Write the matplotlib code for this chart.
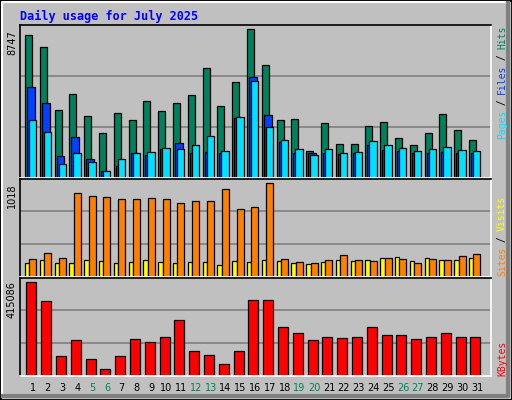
import matplotlib
matplotlib.use("Agg")
import matplotlib.pyplot as plt
from matplotlib.patches import Rectangle
from matplotlib.lines import Line2D

days = list(range(1, 32))
hits = [8391,7679,3938,4888,3641,2632,3819,3404,4473,3879,4354,4829,6432,4176,5601,8747,
        6610,3404,3463,1563,3226,1979,1979,3048,3285,2335,1920,2632,3760,2810,2216]
files = [5304,4354,1267,2395,1088,376,673,1445,1326,1682,2038,1445,1504,1445,3523,5897,
         3701,2098,1445,1445,1445,1385,1445,1920,1623,1563,1445,1445,1504,1445,1445]
pages = [3404,2691,792,1445,910,376,1088,1445,1504,1742,1682,1920,2454,1563,3582,5660,
         2988,2216,1682,1326,1682,1445,1504,2157,1920,1742,1563,1682,1801,1623,1563]
visits = [188,254,199,907,874,863,841,841,852,841,797,819,819,951,730,752,1018,
          188,155,144,177,232,177,166,199,188,144,188,177,221,243]
sites = [144,177,144,144,177,166,144,155,177,155,144,155,155,122,166,155,177,
         166,144,133,155,177,166,177,199,210,166,199,177,177,199]
kbytes = [415086,328400,86700,159600,73000,31900,86700,164200,150500,173300,246300,109400,
          91200,54700,109400,332900,332900,214300,187000,159600,173300,168700,173300,214300,
          182400,182400,164200,173300,187000,173300,173300]
weekends = [5, 6, 12, 13, 19, 20, 26, 27]

W, H = 512, 400
BG = "#C0C0C0"
fig = plt.figure(figsize=(5.12, 4.0), dpi=100, facecolor=BG)

def fx(px): return px / W
def fy(py): return 1 - py / H

# bevel / border
fig.patches.append(Rectangle((0, 0), 1, 1, transform=fig.transFigure, fill=False, ec="black", lw=2))
fig.lines.append(Line2D([fx(2), fx(2), fx(509)], [fy(397), fy(2), fy(2)], transform=fig.transFigure, color="white", lw=1.5))
fig.lines.append(Line2D([fx(3), fx(508), fx(508)], [fy(396), fy(396), fy(3)], transform=fig.transFigure, color="#808080", lw=3))

X0, X1 = 20, 491
step = 14.8
def left(i): return 25 + step * (i - 1)

def mk(top, bot, ymax):
    ax = fig.add_axes([fx(X0), fy(bot), fx(X1) - fx(X0), fy(top) - fy(bot)])
    ax.set_facecolor(BG)
    ax.set_xlim(X0, X1)
    ax.set_ylim(0, ymax)
    for g in (ymax / 3, 2 * ymax / 3):
        ax.axhline(g, color="#808080", lw=1.2, zorder=0)
    ax.set_xticks([]); ax.set_yticks([])
    for s in ("left", "top"):
        ax.spines[s].set_color("black")
    for s in ("right", "bottom"):
        ax.spines[s].set_color("white")
    for s in ax.spines.values():
        s.set_linewidth(1.2)
    return ax

kw = dict(align="edge", edgecolor="black", linewidth=0.9)
ax1 = mk(25, 177.5, 8961)
L = [left(d) for d in days]
ax1.bar(L, hits, width=7, color="#00805C", **kw)
ax1.bar([l + 2 for l in L], files, width=7.7, color="#0040FF", **kw)
ax1.bar([l + 4 for l in L], pages, width=7.3, color="#00E0FF", **kw)

ax2 = mk(178.5, 276.5, 1062)
ax2.bar(L, sites, width=4.3, color="#FFFF00", **kw)
ax2.bar([l + 4.3 for l in L], visits, width=7, color="#FF8000", **kw)

ax3 = mk(277.5, 376, 433330)
ax3.bar([l + 1.3 for l in L], kbytes, width=10, color="#FF0000", **kw)

mono = "DejaVu Sans Mono"
fig.text(fx(20), fy(16), "Daily usage for July 2025", color="#0000FF", fontsize=8.5,
         family=mono, fontweight="bold", va="center", ha="left")

for d in days:
    fig.text(fx(left(d) + 8), fy(388), str(d), color="#00805C" if d in weekends else "black",
             fontsize=7, family="DejaVu Sans", ha="center", va="center")

for txt, py in (("8747", 30), ("1018", 183), ("415086", 281)):
    fig.text(fx(12), fy(py), txt, rotation=90, fontsize=7, family="DejaVu Sans",
             ha="center", va="top")

adv = 5.6
def side(parts, bottom_px):
    y = bottom_px
    for t, c in parts:
        fig.text(fx(502), fy(y), t, rotation=90, color=c, fontsize=7, family=mono,
                 ha="center", va="bottom")
        y -= adv * len(t)

side([("Pages", "#00E0FF"), (" / ", "black"), ("Files", "#0040FF"), (" / ", "black"), ("Hits", "#00805C")], 139)
side([("Sites", "#FF8000"), (" / ", "black"), ("Visits", "#FFFF00")], 276)
side([("KBytes", "#FF0000")], 376)

fig.savefig("out.png", dpi=100, facecolor=BG)
